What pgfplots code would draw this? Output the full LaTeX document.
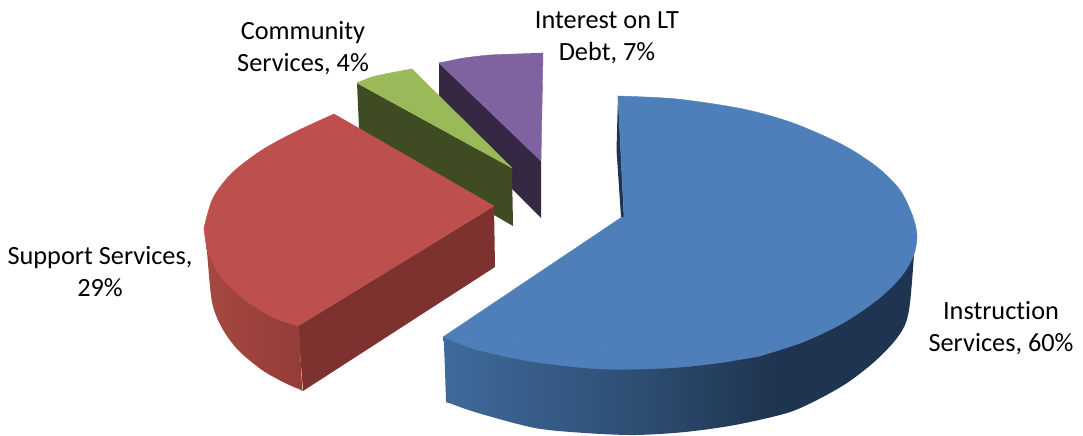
\documentclass[border=0pt]{standalone}
\usepackage{fontspec}
\setmainfont[Ligatures=NoCommon]{Carlito}
\usepackage{pgfplots}
\pgfplotsset{compat=1.18}

% Colours of the faces
\definecolor{blueTop}{HTML}{4E7FBA}
\definecolor{redTop}{HTML}{BD4F4C}
\definecolor{greenTop}{HTML}{9ABA59}
\definecolor{purpleTop}{HTML}{7F63A1}
\definecolor{redCut}{HTML}{7D3230}
\definecolor{greenCut}{HTML}{3F4B22}
\definecolor{purpleCut}{HTML}{352843}
\definecolor{blueCut}{HTML}{1E3450}
\definecolor{blueRimA}{HTML}{3F6A9B}
\definecolor{blueRimB}{HTML}{2E4F74}
\definecolor{blueRimC}{HTML}{1F3450}
\definecolor{redRimA}{HTML}{A54841}
\definecolor{redRimB}{HTML}{943C38}

% Rim shading: the stretch 25bp..75bp spans the width of the filled path
\pgfdeclarehorizontalshading{bluerim}{100bp}{
  color(0bp)=(blueRimA);
  color(25bp)=(blueRimA);
  color(45bp)=(blueRimB);
  color(60bp)=(blueRimC);
  color(100bp)=(blueRimC)}
\pgfdeclarehorizontalshading{redrim}{100bp}{
  color(0bp)=(redRimA);
  color(25bp)=(redRimA);
  color(75bp)=(redRimB);
  color(100bp)=(redRimB)}

\tikzset{lbl/.style={font=\fontsize{26.3}{32}\selectfont, align=center, text=black, inner sep=0pt}}

\begin{document}
\begin{tikzpicture}
\begin{axis}[
  scale only axis, width=1083pt, height=435pt,
  xmin=0, xmax=1083, ymin=0, ymax=435, y dir=reverse,
  axis lines=none, clip=false,
  every axis plot/.append style={draw=none, line join=round},
  top face/.style={fill=#1, draw=#1, line width=0.4pt},
]
% Keeps the page as large as the whole axis area
\path (axis cs:0,0) rectangle (axis cs:1083,435);
% Interest on LT Debt
\addplot[fill=purpleCut] coordinates {(439,63)(541,161)(541,218)(513,190)(480,150)(439,100)} -- cycle;
\addplot[top face=purpleTop] coordinates {(439,63)(541,161)(543,53)} -- cycle;
\addplot[top face=purpleTop, smooth] coordinates {(439,63)(464,58)(490,55)(516,54)(543,53)} -- cycle;
% Community Services
\addplot[fill=greenCut] coordinates {(357,83)(512,168)(513,226)(494,215)(359,128)} -- cycle;
\addplot[top face=greenTop] coordinates {(357,83)(512,168)(412,69)} -- cycle;
\addplot[top face=greenTop, smooth] coordinates {(357,83)(372,77)(390,73)(412,69)} -- cycle;
% Support Services
\addplot[fill=redCut] coordinates {(494,206)(495,267)(303,391)(298,326)} -- cycle;
\addplot[shade, shading=redrim, smooth] coordinates {(206,245)(207,252)(212,302)(222,328)(238,350)(262,370)(285,383)(301,390)(303,391)(302,385)(299,330)(298,326)} -- cycle;
\addplot[top face=redTop] coordinates {(494,206)(334,114)(204,228)(298,326)} -- cycle;
\addplot[top face=redTop, smooth] coordinates {(334,114)(297,131)(262,150)(232,173)(213,198)(204,228)} -- cycle;
\addplot[top face=redTop, smooth] coordinates {(204,228)(208,252)(222,278)(245,300)(272,317)(298,326)} -- cycle;
% Instruction Services
\addplot[fill=blueCut] coordinates {(618,96)(616.5,150)(621,217)(624,217)} -- cycle;
\addplot[shade, shading=bluerim, smooth] coordinates {(443,337)(444,345)(446,400)(446,402)(449,403)(478,413)(535,428)(585,433)(635,435)(685,432)(735,425)(787,413)(817,400)(847,383)(873,363)(893,343)(905,325)(910,303)(914,255)} -- cycle;
\addplot[top face=blueTop] coordinates {(618,96)(624,217)(622,217)(443,337)(760,356)(917,237)} -- cycle;
\addplot[top face=blueTop, smooth] coordinates {(618,96)(677,99)(743,109)(793,123)(843,145)(877,167)(900,190)(913,217)(917,237)(913,257)(900,278)(877,300)(843,323)(803,342)(760,356)} -- cycle;
\addplot[top face=blueTop, smooth] coordinates {(760,356)(718,363)(668,368)(602,369)(535,362)(478,350)(443,337)} -- cycle;
% Labels
\node[lbl] at (axis cs:303,48.5) {Community\\Services, 4\%};
\node[lbl] at (axis cs:607,38) {Interest on LT\\Debt, 7\%};
\node[lbl] at (axis cs:100,272) {Support Services,\\29\%};
\node[lbl] at (axis cs:1001,328.5) {Instruction\\Services, 60\%};
\end{axis}
\end{tikzpicture}
\end{document}
